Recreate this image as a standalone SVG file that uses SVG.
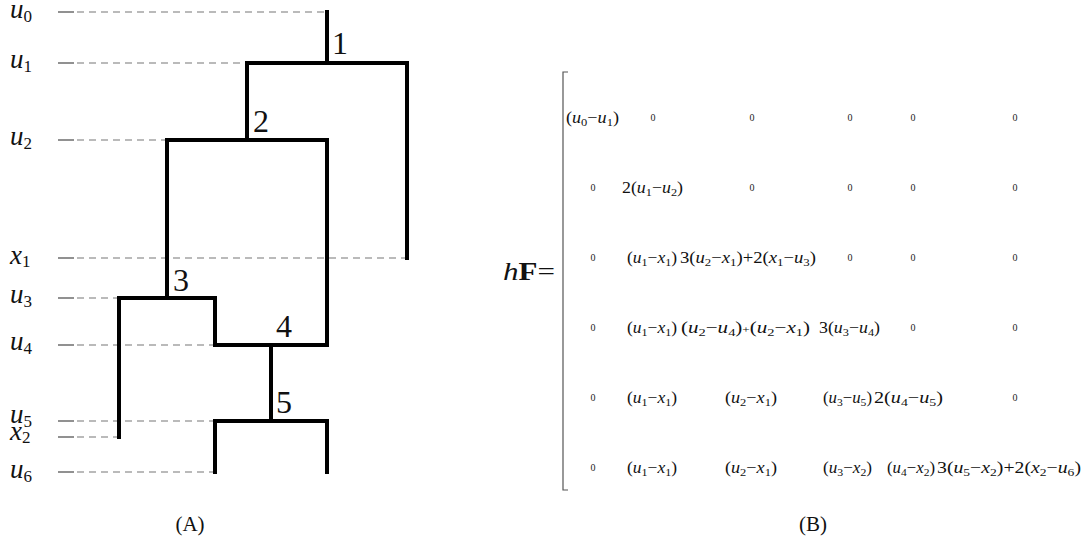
<svg xmlns="http://www.w3.org/2000/svg" width="1082" height="544" viewBox="0 0 1082 544">
  <style>
    .lab { font-family: "Liberation Serif", "DejaVu Serif", serif; font-size: 27px; fill: #111; }
    .lab .v { font-style: italic; }
    .lab .s { font-size: 17px; }
    .num { font-family: "Liberation Serif", "DejaVu Serif", serif; font-size: 32px; fill: #111; }
    .m { font-family: "Liberation Serif", "DejaVu Serif", serif; font-size: 16px; fill: #111; }
    .m .v { font-style: italic; }
    .m .s { font-size: 11px; }
    .m .p { font-size: 10px; }
    .z { font-family: "Liberation Serif", "DejaVu Serif", serif; font-size: 10px; fill: #222; text-anchor: middle; }
    .cap { font-family: "Liberation Serif", "DejaVu Serif", serif; font-size: 21px; fill: #111; text-anchor: middle; }
    .tick { stroke: #555; stroke-width: 1.3; }
    .guide { stroke: #777; stroke-width: 1.2; stroke-dasharray: 7 5; fill: none; }
    .bar { stroke: #000; stroke-width: 4; stroke-linecap: square; fill: none; }
  </style>

  <!-- time axis labels with dashed guides -->
  <g id="axis">
    <g class="lab">
      <text x="10" y="18"><tspan class="v">u</tspan><tspan class="s" dy="4">0</tspan></text>
      <text x="10" y="68"><tspan class="v">u</tspan><tspan class="s" dy="4">1</tspan></text>
      <text x="10" y="145"><tspan class="v">u</tspan><tspan class="s" dy="4">2</tspan></text>
      <text x="10" y="264"><tspan class="v">x</tspan><tspan class="s" dy="3">1</tspan></text>
      <text x="10" y="303"><tspan class="v">u</tspan><tspan class="s" dy="4">3</tspan></text>
      <text x="10" y="350"><tspan class="v">u</tspan><tspan class="s" dy="4">4</tspan></text>
      <text x="10" y="423"><tspan class="v">u</tspan><tspan class="s" dy="4">5</tspan></text>
      <text x="10" y="440"><tspan class="v">x</tspan><tspan class="s" dy="3">2</tspan></text>
      <text x="10" y="478"><tspan class="v">u</tspan><tspan class="s" dy="4">6</tspan></text>
    </g>
    <g class="tick">
      <line x1="58" y1="12" x2="74" y2="12"/>
      <line x1="58" y1="63" x2="74" y2="63"/>
      <line x1="58" y1="140" x2="74" y2="140"/>
      <line x1="58" y1="258" x2="74" y2="258"/>
      <line x1="58" y1="298" x2="74" y2="298"/>
      <line x1="58" y1="345" x2="74" y2="345"/>
      <line x1="58" y1="421" x2="74" y2="421"/>
      <line x1="58" y1="437" x2="74" y2="437"/>
      <line x1="58" y1="472" x2="74" y2="472"/>
    </g>
    <g class="guide">
      <line x1="77" y1="12" x2="327" y2="12"/>
      <line x1="77" y1="63" x2="247" y2="63"/>
      <line x1="77" y1="140" x2="167" y2="140"/>
      <line x1="77" y1="258" x2="407" y2="258"/>
      <line x1="77" y1="298" x2="119" y2="298"/>
      <line x1="77" y1="345" x2="215" y2="345"/>
      <line x1="77" y1="421" x2="215" y2="421"/>
      <line x1="77" y1="437" x2="119" y2="437"/>
      <line x1="77" y1="472" x2="215" y2="472"/>
    </g>
  </g>

  <!-- branches of the tree -->
  <g id="connectors" class="bar">
    <line x1="327" y1="12" x2="327" y2="63"/>
    <line x1="247" y1="63" x2="247" y2="140"/>
    <line x1="407" y1="63" x2="407" y2="258"/>
    <line x1="167" y1="140" x2="167" y2="298"/>
    <line x1="327" y1="140" x2="327" y2="345"/>
    <line x1="119" y1="298" x2="119" y2="437"/>
    <line x1="215" y1="298" x2="215" y2="345"/>
    <line x1="271" y1="345" x2="271" y2="421"/>
    <line x1="215" y1="421" x2="215" y2="472"/>
    <line x1="327" y1="421" x2="327" y2="472"/>
  </g>

  <!-- internal nodes -->
  <g id="node-1">
    <line class="bar" x1="247" y1="63" x2="407" y2="63"/>
    <text class="num" x="332" y="54">1</text>
  </g>
  <g id="node-2">
    <line class="bar" x1="167" y1="140" x2="327" y2="140"/>
    <text class="num" x="253" y="132">2</text>
  </g>
  <g id="node-3">
    <line class="bar" x1="119" y1="298" x2="215" y2="298"/>
    <text class="num" x="173" y="291">3</text>
  </g>
  <g id="node-4">
    <line class="bar" x1="215" y1="345" x2="327" y2="345"/>
    <text class="num" x="276" y="337">4</text>
  </g>
  <g id="node-5">
    <line class="bar" x1="215" y1="421" x2="327" y2="421"/>
    <text class="num" x="276" y="413">5</text>
  </g>

  <!-- matrix hF -->
  <g id="matrix">
    <text class="m" x="503" y="280" style="font-size:26px" textLength="52" lengthAdjust="spacingAndGlyphs"><tspan class="v">h</tspan><tspan font-weight="bold">F</tspan>=</text>
    <path d="M568,72 H563 V490 H568" fill="none" stroke="#555" stroke-width="1.2"/>

    <!-- row 1 -->
    <text class="m" x="566" y="123" textLength="53" lengthAdjust="spacingAndGlyphs">(<tspan class="v">u</tspan><tspan class="s" dy="3">0</tspan><tspan dy="-3">−</tspan><tspan class="v">u</tspan><tspan class="s" dy="3">1</tspan><tspan dy="-3">)</tspan></text>
    <text class="z" x="653" y="121">0</text>
    <text class="z" x="752" y="121">0</text>
    <text class="z" x="850" y="121">0</text>
    <text class="z" x="913" y="121">0</text>
    <text class="z" x="1015" y="121">0</text>

    <!-- row 2 -->
    <text class="z" x="593" y="191">0</text>
    <text class="m" x="622" y="193" textLength="61" lengthAdjust="spacingAndGlyphs">2(<tspan class="v">u</tspan><tspan class="s" dy="3">1</tspan><tspan dy="-3">−</tspan><tspan class="v">u</tspan><tspan class="s" dy="3">2</tspan><tspan dy="-3">)</tspan></text>
    <text class="z" x="752" y="191">0</text>
    <text class="z" x="850" y="191">0</text>
    <text class="z" x="913" y="191">0</text>
    <text class="z" x="1015" y="191">0</text>

    <!-- row 3 -->
    <text class="z" x="593" y="261">0</text>
    <text class="m" x="627" y="263" textLength="50" lengthAdjust="spacingAndGlyphs">(<tspan class="v">u</tspan><tspan class="s" dy="3">1</tspan><tspan dy="-3">−</tspan><tspan class="v">x</tspan><tspan class="s" dy="3">1</tspan><tspan dy="-3">)</tspan></text>
    <text class="m" x="680" y="263" textLength="136" lengthAdjust="spacingAndGlyphs">3(<tspan class="v">u</tspan><tspan class="s" dy="3">2</tspan><tspan dy="-3">−</tspan><tspan class="v">x</tspan><tspan class="s" dy="3">1</tspan><tspan dy="-3">)+2(</tspan><tspan class="v">x</tspan><tspan class="s" dy="3">1</tspan><tspan dy="-3">−</tspan><tspan class="v">u</tspan><tspan class="s" dy="3">3</tspan><tspan dy="-3">)</tspan></text>
    <text class="z" x="850" y="261">0</text>
    <text class="z" x="913" y="261">0</text>
    <text class="z" x="1015" y="261">0</text>

    <!-- row 4 -->
    <text class="z" x="593" y="331">0</text>
    <text class="m" x="627" y="333" textLength="50" lengthAdjust="spacingAndGlyphs">(<tspan class="v">u</tspan><tspan class="s" dy="3">1</tspan><tspan dy="-3">−</tspan><tspan class="v">x</tspan><tspan class="s" dy="3">1</tspan><tspan dy="-3">)</tspan></text>
    <text class="m" x="681" y="333" textLength="129" lengthAdjust="spacingAndGlyphs">(<tspan class="v">u</tspan><tspan class="s" dy="3">2</tspan><tspan dy="-3">−</tspan><tspan class="v">u</tspan><tspan class="s" dy="3">4</tspan><tspan dy="-3">)</tspan><tspan class="p">+</tspan>(<tspan class="v">u</tspan><tspan class="s" dy="3">2</tspan><tspan dy="-3">−</tspan><tspan class="v">x</tspan><tspan class="s" dy="3">1</tspan><tspan dy="-3">)</tspan></text>
    <text class="m" x="819" y="333" textLength="61" lengthAdjust="spacingAndGlyphs">3(<tspan class="v">u</tspan><tspan class="s" dy="3">3</tspan><tspan dy="-3">−</tspan><tspan class="v">u</tspan><tspan class="s" dy="3">4</tspan><tspan dy="-3">)</tspan></text>
    <text class="z" x="913" y="331">0</text>
    <text class="z" x="1015" y="331">0</text>

    <!-- row 5 -->
    <text class="z" x="593" y="401">0</text>
    <text class="m" x="627" y="403" textLength="50" lengthAdjust="spacingAndGlyphs">(<tspan class="v">u</tspan><tspan class="s" dy="3">1</tspan><tspan dy="-3">−</tspan><tspan class="v">x</tspan><tspan class="s" dy="3">1</tspan><tspan dy="-3">)</tspan></text>
    <text class="m" x="725" y="403" textLength="52" lengthAdjust="spacingAndGlyphs">(<tspan class="v">u</tspan><tspan class="s" dy="3">2</tspan><tspan dy="-3">−</tspan><tspan class="v">x</tspan><tspan class="s" dy="3">1</tspan><tspan dy="-3">)</tspan></text>
    <text class="m" x="823" y="403" textLength="49" lengthAdjust="spacingAndGlyphs">(<tspan class="v">u</tspan><tspan class="s" dy="3">3</tspan><tspan dy="-3">−</tspan><tspan class="v">u</tspan><tspan class="s" dy="3">5</tspan><tspan dy="-3">)</tspan></text>
    <text class="m" x="874" y="403" textLength="69" lengthAdjust="spacingAndGlyphs">2(<tspan class="v">u</tspan><tspan class="s" dy="3">4</tspan><tspan dy="-3">−</tspan><tspan class="v">u</tspan><tspan class="s" dy="3">5</tspan><tspan dy="-3">)</tspan></text>
    <text class="z" x="1015" y="401">0</text>

    <!-- row 6 -->
    <text class="z" x="593" y="471">0</text>
    <text class="m" x="627" y="473" textLength="50" lengthAdjust="spacingAndGlyphs">(<tspan class="v">u</tspan><tspan class="s" dy="3">1</tspan><tspan dy="-3">−</tspan><tspan class="v">x</tspan><tspan class="s" dy="3">1</tspan><tspan dy="-3">)</tspan></text>
    <text class="m" x="725" y="473" textLength="52" lengthAdjust="spacingAndGlyphs">(<tspan class="v">u</tspan><tspan class="s" dy="3">2</tspan><tspan dy="-3">−</tspan><tspan class="v">x</tspan><tspan class="s" dy="3">1</tspan><tspan dy="-3">)</tspan></text>
    <text class="m" x="823" y="473" textLength="49" lengthAdjust="spacingAndGlyphs">(<tspan class="v">u</tspan><tspan class="s" dy="3">3</tspan><tspan dy="-3">−</tspan><tspan class="v">x</tspan><tspan class="s" dy="3">2</tspan><tspan dy="-3">)</tspan></text>
    <text class="m" x="887" y="473" textLength="48" lengthAdjust="spacingAndGlyphs">(<tspan class="v">u</tspan><tspan class="s" dy="3">4</tspan><tspan dy="-3">−</tspan><tspan class="v">x</tspan><tspan class="s" dy="3">2</tspan><tspan dy="-3">)</tspan></text>
    <text class="m" x="937" y="473" textLength="144" lengthAdjust="spacingAndGlyphs">3(<tspan class="v">u</tspan><tspan class="s" dy="3">5</tspan><tspan dy="-3">−</tspan><tspan class="v">x</tspan><tspan class="s" dy="3">2</tspan><tspan dy="-3">)+2(</tspan><tspan class="v">x</tspan><tspan class="s" dy="3">2</tspan><tspan dy="-3">−</tspan><tspan class="v">u</tspan><tspan class="s" dy="3">6</tspan><tspan dy="-3">)</tspan></text>
  </g>

  <!-- panel captions -->
  <text class="cap" x="190" y="531">(A)</text>
  <text class="cap" x="813" y="531">(B)</text>
</svg>
